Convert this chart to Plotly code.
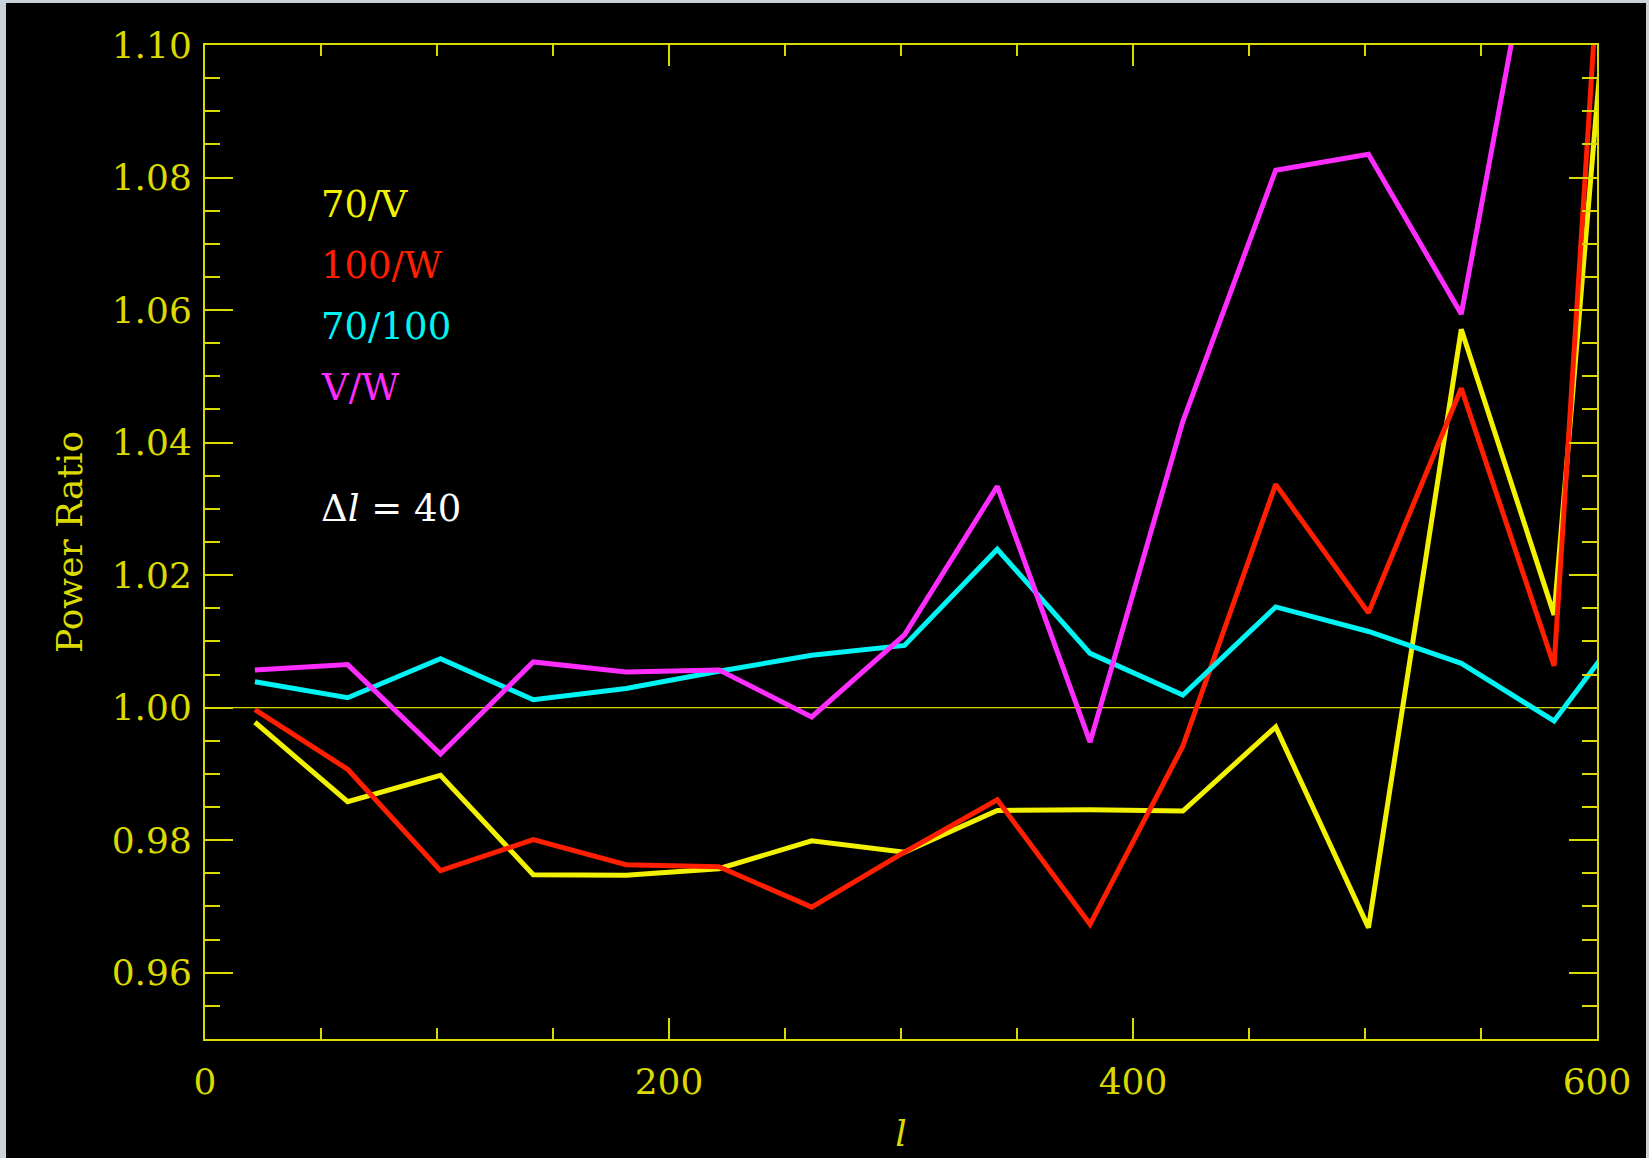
import plotly.graph_objects as go

# multipole bin centres (last bin runs past the plotted range and is clipped)
ell = [21.5, 61.5, 101.5, 141.5, 181.5, 221.5, 261.5, 301.5,
       341.5, 381.5, 421.5, 461.5, 501.5, 541.5, 581.5, 621.5]

ratio_70_V = [0.9978, 0.9858, 0.9898, 0.9748, 0.9747, 0.9757, 0.9799, 0.9782,
              0.9845, 0.9846, 0.9844, 0.9971, 0.9668, 1.0571, 1.0140, 1.1807]
ratio_100_W = [0.9997, 0.9907, 0.9754, 0.9801, 0.9763, 0.9760, 0.9699, 0.9782,
               0.9861, 0.9673, 0.9942, 1.0337, 1.0143, 1.0482, 1.0063, 1.2268]
ratio_70_100 = [1.0039, 1.0015, 1.0074, 1.0012, 1.0029, 1.0055, 1.0079, 1.0094,
                1.0239, 1.0082, 1.0019, 1.0152, 1.0115, 1.0067, 0.9980, 1.0166]
ratio_V_W = [1.0057, 1.0065, 0.9930, 1.0069, 1.0054, 1.0057, 0.9986, 1.0110,
             1.0334, 0.9948, 1.0432, 1.0811, 1.0835, 1.0594, 1.1350, 1.1600]

series_names = ["70/V", "100/W", "70/100", "V/W"]
series_values = [ratio_70_V, ratio_100_W, ratio_70_100, ratio_V_W]
series_colors = ["#f2f200", "#ff1e00", "#00f4f4", "#ff2cff"]

x_tickvals = [0, 200, 400, 600]
y_tickvals = [0.96, 0.98, 1.00, 1.02, 1.04, 1.06, 1.08, 1.10]
y_ticktext = ["0.96", "0.98", "1.00", "1.02", "1.04", "1.06", "1.08", "1.10"]

AX = "#dada00"
FONT = "DejaVu Serif"

W, H = 1649, 1158
ML, MR, MT, MB = 205, 52, 45, 119

fig = go.Figure()

# reference line at ratio = 1
fig.add_trace(go.Scatter(x=[0, 600], y=[1.0, 1.0], mode="lines",
                         line=dict(color=AX, width=1.2), showlegend=False,
                         hoverinfo="skip"))

for name, vals, col in zip(series_names, series_values, series_colors):
    fig.add_trace(go.Scatter(x=ell, y=vals, mode="lines", name=name,
                             line=dict(color=col, width=5),
                             showlegend=False))

# text labels (legend)
label_y = [1.0760, 1.0668, 1.0575, 1.0483]
for name, col, yy in zip(series_names, series_colors, label_y):
    fig.add_annotation(x=49, y=yy, xref="x", yref="y", text=name,
                       showarrow=False, xanchor="left", yanchor="middle",
                       font=dict(family=FONT, size=37, color=col))
fig.add_annotation(x=49, y=1.0300, xref="x", yref="y",
                   text="\u0394<i>l</i> = 40", showarrow=False,
                   xanchor="left", yanchor="middle",
                   font=dict(family=FONT, size=37, color="#ffffff"))

# light window border (left, top, right)
pw = W - ML - MR
ph = H - MT - MB
border = "#c9d3d9"
def px_to_paper_x(px):
    return (px - ML) / pw
def px_to_paper_y(py):
    return (H - MB - py) / ph
for (x0, x1, y0, y1) in [(0, 6, 0, H), (0, W, 0, 3), (W - 3, W, 0, H)]:
    fig.add_shape(type="rect", xref="paper", yref="paper",
                  x0=px_to_paper_x(x0), x1=px_to_paper_x(x1),
                  y0=px_to_paper_y(y1), y1=px_to_paper_y(y0),
                  fillcolor=border, line=dict(width=0), layer="above")

fig.update_layout(
    width=W, height=H,
    margin=dict(l=ML, r=MR, t=MT, b=MB, pad=0, autoexpand=False),
    paper_bgcolor="black", plot_bgcolor="black",
    showlegend=False,
    font=dict(family=FONT, color=AX),
)

fig.update_xaxes(
    range=[0, 600], tickvals=x_tickvals, ticktext=[str(v) for v in x_tickvals],
    showgrid=False, zeroline=False, automargin=False,
    showline=True, linecolor=AX, linewidth=2, mirror="ticks",
    ticks="inside", ticklen=21, tickwidth=1.5, tickcolor=AX,
    minor=dict(dtick=50, tick0=0, ticks="inside", ticklen=11, tickwidth=1.5,
               tickcolor=AX, showgrid=False),
    tickfont=dict(family=FONT, size=36, color=AX),
    ticklabelstandoff=10,
    title=dict(text="<i>l</i>", font=dict(family=FONT, size=36, color=AX),
               standoff=20),
)
fig.update_yaxes(
    range=[0.95, 1.10], tickvals=y_tickvals, ticktext=y_ticktext,
    showgrid=False, zeroline=False, automargin=False,
    showline=True, linecolor=AX, linewidth=2, mirror="ticks",
    ticks="inside", ticklen=28, tickwidth=1.5, tickcolor=AX,
    minor=dict(dtick=0.005, tick0=0.95, ticks="inside", ticklen=15,
               tickwidth=1.5, tickcolor=AX, showgrid=False),
    tickfont=dict(family=FONT, size=36, color=AX),
    ticklabelstandoff=4,
    title=dict(text="Power Ratio", font=dict(family=FONT, size=36, color=AX),
               standoff=18),
)

fig.write_html("out.html",
               config={"displayModeBar": False},
               post_script="document.body.style.margin='0px';"
                           "document.body.style.overflow='hidden';")
